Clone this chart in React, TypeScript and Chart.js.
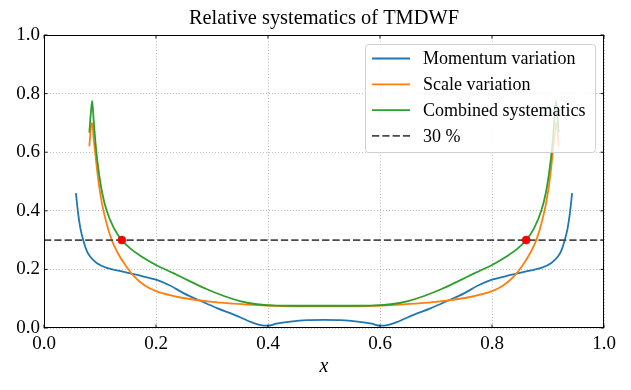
import { useEffect, useRef } from "react";
import { Chart, registerables } from "chart.js";

Chart.register(...registerables);

const FONT = "'Liberation Serif', 'Times New Roman', serif";

const TITLE = "Relative systematics of TMDWF";
const X_LABEL = "x";
const TICK_VALUES = [0, 0.2, 0.4, 0.6, 0.8, 1.0];

const momentumX = [
  0.057, 0.061, 0.065, 0.07, 0.076, 0.082, 0.094, 0.112, 0.13, 0.15, 0.175, 0.2, 0.225, 0.25, 0.28, 0.31, 0.34,
  0.37, 0.385, 0.4, 0.415, 0.44, 0.47, 0.5, 0.53, 0.56, 0.585, 0.6, 0.615, 0.63, 0.66, 0.69, 0.72, 0.75, 0.775, 0.8,
  0.825, 0.85, 0.87, 0.888, 0.906, 0.918, 0.924, 0.93, 0.935, 0.939, 0.943,
];
const momentumY = [
  0.46, 0.39, 0.34, 0.3, 0.265, 0.245, 0.222, 0.205, 0.197, 0.188, 0.177, 0.165, 0.145, 0.118, 0.092, 0.067, 0.045,
  0.02, 0.011, 0.008, 0.015, 0.022, 0.027, 0.028, 0.027, 0.022, 0.015, 0.008, 0.011, 0.02, 0.045, 0.067, 0.092, 0.118,
  0.145, 0.165, 0.177, 0.188, 0.197, 0.205, 0.222, 0.245, 0.265, 0.3, 0.34, 0.39, 0.46,
];

const scaleX = [
  0.081, 0.0835, 0.086, 0.089, 0.093, 0.098, 0.104, 0.112, 0.121, 0.132, 0.145, 0.16, 0.18, 0.2, 0.23, 0.26, 0.3,
  0.34, 0.38, 0.42, 0.46, 0.5, 0.54, 0.58, 0.62, 0.66, 0.7, 0.74, 0.77, 0.8, 0.82, 0.84, 0.855, 0.868, 0.879, 0.888,
  0.896, 0.902, 0.907, 0.911, 0.914, 0.9165, 0.919,
];
const scaleY = [
  0.62, 0.68, 0.7, 0.64, 0.57, 0.49, 0.42, 0.355, 0.3, 0.255, 0.215, 0.178, 0.145, 0.126, 0.11, 0.099, 0.089, 0.083,
  0.078, 0.075, 0.074, 0.074, 0.074, 0.075, 0.078, 0.083, 0.089, 0.099, 0.11, 0.126, 0.145, 0.178, 0.215, 0.255, 0.3,
  0.355, 0.42, 0.49, 0.57, 0.64, 0.7, 0.68, 0.62,
];

const combinedX = [
  0.081, 0.0835, 0.086, 0.089, 0.093, 0.098, 0.104, 0.112, 0.125, 0.139, 0.155, 0.172, 0.2, 0.23, 0.26, 0.29, 0.32,
  0.35, 0.38, 0.41, 0.45, 0.5, 0.55, 0.59, 0.62, 0.65, 0.68, 0.71, 0.74, 0.77, 0.8, 0.828, 0.845, 0.861, 0.875, 0.888,
  0.896, 0.902, 0.907, 0.911, 0.914, 0.9165, 0.919,
];
const combinedY = [
  0.667, 0.73, 0.775, 0.7, 0.61, 0.53, 0.46, 0.4, 0.34, 0.3, 0.27, 0.247, 0.215, 0.188, 0.16, 0.133, 0.11, 0.092,
  0.081, 0.077, 0.076, 0.076, 0.076, 0.077, 0.081, 0.092, 0.11, 0.133, 0.16, 0.188, 0.215, 0.247, 0.27, 0.3, 0.34,
  0.4, 0.46, 0.53, 0.61, 0.7, 0.775, 0.73, 0.667,
];

const thresholdX = [0, 1];
const thresholdY = [0.3, 0.3];

const crossingX = [0.139, 0.861];
const crossingY = [0.3, 0.3];

const legendLabels = ["Momentum variation", "Scale variation", "Combined systematics", "30 %"];
const legendColors = ["#1f77b4", "#ff7f0e", "#2ca02c", "#4a4a4a"];
const legendDashed = [false, false, false, true];

const LINE_W = 1.8;
const DASH = [7.3, 3];

const toPoints = (xs: number[], ys: number[]) => xs.map((x, i) => ({ x, y: ys[i] }));

const framePlugin = {
  id: "frameLegend",
  afterDraw(chart: any) {
    const { ctx, chartArea: a, scales } = chart;
    ctx.save();
    // title centred over the axes
    ctx.fillStyle = "#000";
    ctx.font = `20.4px ${FONT}`;
    ctx.textAlign = "center";
    ctx.textBaseline = "middle";
    ctx.fillText(TITLE, (a.left + a.right) / 2, 19);
    // frame
    ctx.strokeStyle = "#000";
    ctx.lineWidth = 1;
    ctx.setLineDash([]);
    ctx.strokeRect(a.left + 0.5, a.top + 0.5, a.right - a.left - 1, a.bottom - a.top - 1);
    // inward ticks
    ctx.lineWidth = 0.9;
    const tl = 3.5;
    TICK_VALUES.forEach((v) => {
      const px = scales.x.getPixelForValue(v);
      const py = scales.y.getPixelForValue(v);
      ctx.beginPath();
      ctx.moveTo(px, a.bottom);
      ctx.lineTo(px, a.bottom - tl);
      ctx.moveTo(px, a.top);
      ctx.lineTo(px, a.top + tl);
      ctx.moveTo(a.left, py);
      ctx.lineTo(a.left + tl, py);
      ctx.moveTo(a.right, py);
      ctx.lineTo(a.right - tl, py);
      ctx.stroke();
    });
    // legend
    const bw = 230;
    const bh = 108;
    const bx = a.right - 9 - bw;
    const by = a.top + 9;
    ctx.beginPath();
    if (ctx.roundRect) ctx.roundRect(bx + 0.5, by + 0.5, bw, bh, 3);
    else ctx.rect(bx + 0.5, by + 0.5, bw, bh);
    ctx.fillStyle = "rgba(255,255,255,0.8)";
    ctx.fill();
    ctx.strokeStyle = "#d0d0d0";
    ctx.lineWidth = 1;
    ctx.stroke();
    ctx.font = `18px ${FONT}`;
    ctx.textBaseline = "middle";
    ctx.textAlign = "left";
    legendLabels.forEach((label, i) => {
      const y = by + 14.5 + i * 25.8;
      ctx.beginPath();
      ctx.strokeStyle = legendColors[i];
      ctx.lineWidth = LINE_W;
      ctx.setLineDash(legendDashed[i] ? DASH : []);
      ctx.moveTo(bx + 7, y);
      ctx.lineTo(bx + 45, y);
      ctx.stroke();
      ctx.setLineDash([]);
      ctx.fillStyle = "#000";
      ctx.fillText(label, bx + 58, y + 1);
    });
    ctx.restore();
  },
};

export default function App() {
  const ref = useRef<HTMLCanvasElement | null>(null);

  useEffect(() => {
    if (!ref.current) return;
    const chart = new Chart(ref.current, {
      type: "line",
      data: {
        datasets: [
          {
            label: legendLabels[0],
            data: toPoints(momentumX, momentumY),
            borderColor: legendColors[0],
            borderWidth: LINE_W,
            pointRadius: 0,
            cubicInterpolationMode: "monotone",
            fill: false,
            order: 5,
          },
          {
            label: legendLabels[1],
            data: toPoints(scaleX, scaleY),
            borderColor: legendColors[1],
            borderWidth: LINE_W,
            pointRadius: 0,
            cubicInterpolationMode: "monotone",
            fill: false,
            order: 4,
          },
          {
            label: legendLabels[2],
            data: toPoints(combinedX, combinedY),
            borderColor: legendColors[2],
            borderWidth: LINE_W,
            pointRadius: 0,
            cubicInterpolationMode: "monotone",
            fill: false,
            order: 3,
          },
          {
            label: legendLabels[3],
            data: toPoints(thresholdX, thresholdY),
            borderColor: legendColors[3],
            borderWidth: LINE_W,
            borderDash: DASH,
            pointRadius: 0,
            fill: false,
            order: 2,
          },
          {
            label: "crossings",
            data: toPoints(crossingX, crossingY),
            showLine: false,
            pointRadius: 4,
            pointBackgroundColor: "#ff0000",
            pointBorderColor: "#d00000",
            pointBorderWidth: 0.5,
            order: 1,
          },
        ],
      },
      options: {
        responsive: false,
        animation: false,
        events: [],
        layout: { padding: { left: 0, right: 27, top: 35, bottom: 0 } },
        plugins: {
          legend: { display: false },
          tooltip: { enabled: false },
          title: { display: false },
        },
        scales: {
          x: {
            type: "linear",
            min: 0,
            max: 1,
            afterFit: (s: any) => {
              s.height = 62;
            },
            ticks: {
              stepSize: 0.2,
              color: "#000",
              padding: 5,
              maxRotation: 0,
              font: { family: FONT, size: 19 },
              callback: (v: any) => Number(v).toFixed(1),
            },
            grid: { color: "#b0b0b0", lineWidth: 0.8, drawTicks: false },
            border: { display: false, dash: [1, 2] },
            title: {
              display: true,
              text: X_LABEL,
              color: "#000",
              font: { family: FONT, size: 20, style: "italic" },
              padding: { top: 0, bottom: 11 },
            },
          },
          y: {
            type: "linear",
            min: 0,
            max: 1,
            afterFit: (s: any) => {
              s.width = 44;
            },
            ticks: {
              stepSize: 0.2,
              color: "#000",
              padding: 4,
              font: { family: FONT, size: 19 },
              callback: (v: any) => Number(v).toFixed(1),
            },
            grid: { color: "#b0b0b0", lineWidth: 0.8, drawTicks: false },
            border: { display: false, dash: [1, 2] },
          },
        },
      },
      plugins: [framePlugin],
    });
    return () => chart.destroy();
  }, []);

  return (
    <div style={{ position: "absolute", left: 0, top: 0, width: 631, height: 390, background: "#fff" }}>
      <canvas ref={ref} width={631} height={390} style={{ display: "block", width: 631, height: 390 }} />
    </div>
  );
}
